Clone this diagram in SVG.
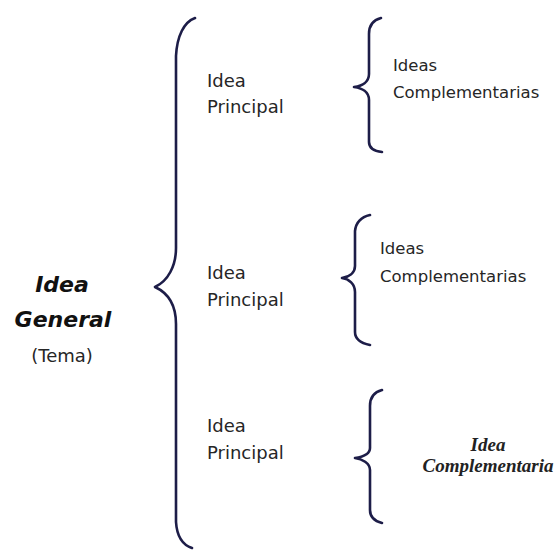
<svg xmlns="http://www.w3.org/2000/svg" width="557" height="553" viewBox="0 0 557 553">
<style>
.br{fill:none;stroke:#1d1d48;stroke-width:2.6;stroke-linecap:round;stroke-linejoin:round}
.c{font-family:"DejaVu Sans",sans-serif;fill:#262626}
.p{font-size:18px}
.s{font-size:16.5px}
.g{font-size:22px;font-weight:bold;font-style:italic;fill:#111}
.t{font-family:"Liberation Serif",serif;font-size:19px;font-weight:bold;font-style:italic;fill:#222}
</style>
<rect width="557" height="553" fill="#ffffff"/>
<g id="connectors">
<path class="br" d="M195,18 C184,22 177,36 176,56 L176,248 C176,266 168,281 155,287 C168,293 176,305 176,324 L176,522 C177,538 183,545 192,548"/>
<path class="br" d="M381,18 C373,20 369,25 369,34 L369,74 C369,82 362,86 354,87 C362,88 369,92 369,100 L369,142 C369,148 373,151 382,152"/>
<path class="br" d="M370,215 C361,217 356,222 355,231 L355,266 C355,273 349,277 342,278 C349,279 355,284 355,292 L355,332 C355,339 360,343 370,345"/>
<path class="br" d="M382,390 C374,392 370,397 370,406 L370,448 C370,454 362,457 355,458 C362,459 370,463 370,470 L370,510 C370,517 374,521 382,523"/>
</g>
<g id="idea-general">
<text class="c g" x="62" y="292" text-anchor="middle">Idea</text>
<text class="c g" x="63" y="327" text-anchor="middle">General</text>
<text class="c p" x="62" y="362" text-anchor="middle">(Tema)</text>
</g>
<g id="principal-1">
<text class="c p" x="207" y="87">Idea</text>
<text class="c p" x="207" y="113">Principal</text>
</g>
<g id="principal-2">
<text class="c p" x="207" y="279">Idea</text>
<text class="c p" x="207" y="306">Principal</text>
</g>
<g id="principal-3">
<text class="c p" x="207" y="432">Idea</text>
<text class="c p" x="207" y="459">Principal</text>
</g>
<g id="complementarias-1">
<text class="c s" x="393" y="71">Ideas</text>
<text class="c s" x="393" y="98">Complementarias</text>
</g>
<g id="complementarias-2">
<text class="c s" x="380" y="254">Ideas</text>
<text class="c s" x="380" y="282">Complementarias</text>
</g>
<g id="complementaria-3">
<text class="t" x="488" y="451" text-anchor="middle">Idea</text>
<text class="t" x="488" y="472" text-anchor="middle" textLength="131" lengthAdjust="spacingAndGlyphs">Complementaria</text>
</g>
</svg>
